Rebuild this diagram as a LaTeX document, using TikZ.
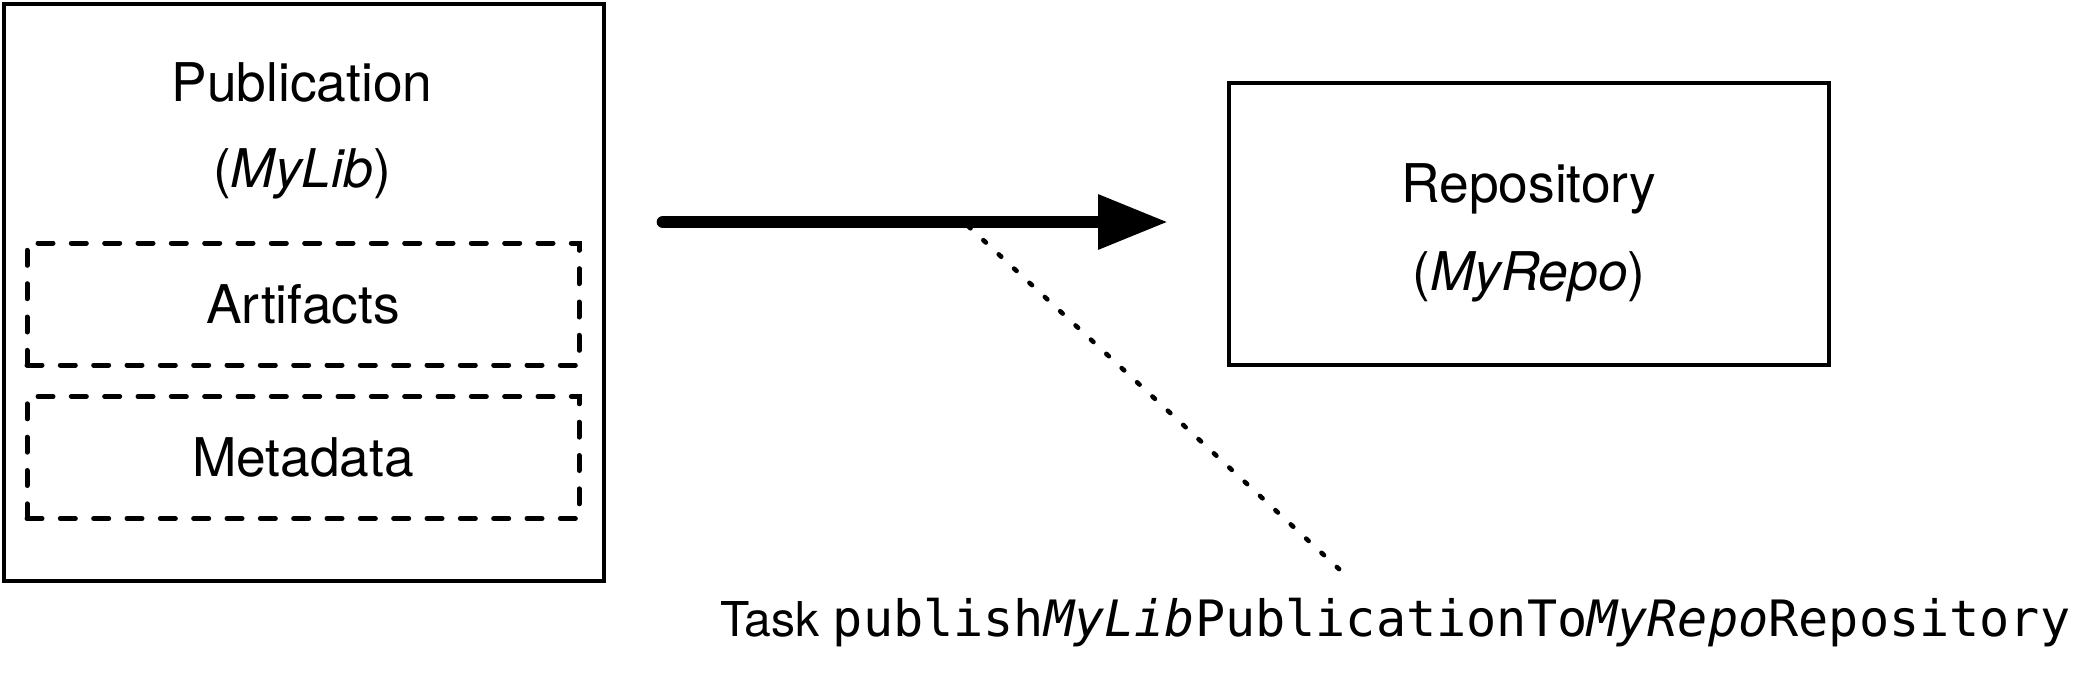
\documentclass[tikz,border=0pt]{standalone}
\usepackage{fontspec}
\setmainfont{TeX Gyre Heros}
\setmonofont{DejaVu Sans Mono}
\usetikzlibrary{arrows.meta}
\newcommand{\diagfont}{\fontsize{40}{66}\selectfont}

\begin{document}
\begin{tikzpicture}[x=0.75pt,y=0.75pt,yscale=-1,xscale=1,
	solidbox/.style={draw, line width=3pt, inner sep=0pt},
	dashbox/.style={draw, line width=3.75pt, line cap=round, dash pattern={on 11.25pt off 13.75pt}, inner sep=0pt, minimum width=414pt, minimum height=91.5pt, font=\diagfont},
	textlabel/.style={anchor=base, inner sep=0pt, font=\diagfont},
	pusharrow/.style={line width=9.5pt, line cap=round, -{Triangle[length=52.5pt,width=39pt]}},
	callout/.style={line width=3.5pt, line cap=round, dash pattern={on 2.5pt off 13.2pt}}]
	\useasboundingbox (0,0) rectangle (2091,674);
	
	%Shape: Rectangle
	\node (pub) [solidbox, minimum width=450pt, minimum height=432.75pt] at (304,292.5) {};
	%Shape: Rectangle
	\node (artifacts) [dashbox] at (303,304) {Artifacts};
	%Shape: Rectangle
	\node (metadata) [dashbox] at (303,457.5) {Metadata};
	%Shape: Rectangle
	\node (repo) [solidbox, minimum width=450pt, minimum height=211.5pt] at (1529,224) {};
	
	%Straight Lines
	\coordinate (hook) at (968,226);
	\coordinate (hint) at (1339,569);
	\draw [callout] (hook) -- (hint);
	%Straight Lines
	\coordinate (tail) at (663,222);
	\coordinate (tip) at (1168,222);
	\draw [pusharrow] (tail) -- (tip);
	
	% Text Node
	\node (pubname) [textlabel] at (302,101) {Publication};
	% Text Node
	\node (pubid) [textlabel] at (302,187) {(\textit{MyLib})};
	% Text Node
	\node (reponame) [textlabel] at (1529,202) {Repository};
	% Text Node
	\node (repoid) [textlabel] at (1529,290) {(\textit{MyRepo})};
	% Text Node
	\node (task) [anchor=base west, inner sep=0pt] at (720,636) {{\fontsize{36}{36}\selectfont Task }{\ttfamily\fontsize{37.6}{37.6}\selectfont publish\textit{MyLib}Publication\-To\textit{MyRepo}Repository}};
	
\end{tikzpicture}
\end{document}
